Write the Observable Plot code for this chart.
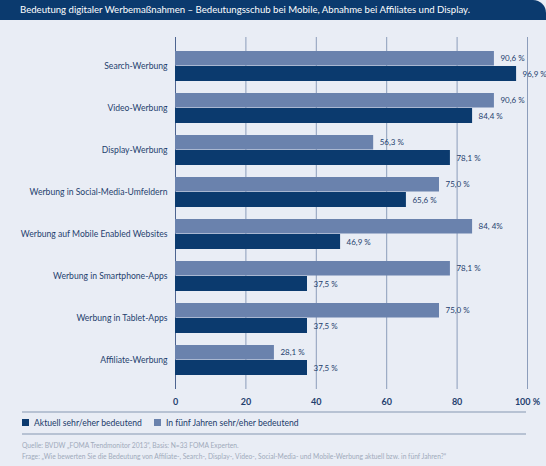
<!DOCTYPE html>
<html>
<head>
<meta charset="utf-8">
<script src="https://cdn.jsdelivr.net/npm/d3@7"></script>
<script src="https://cdn.jsdelivr.net/npm/@observablehq/plot@0.6"></script>
<style>
  html, body { margin: 0; padding: 0; background: #e9edf5; }
  #wrap { position: relative; width: 546px; height: 466px; background: #e9edf5; overflow: hidden; font-family: Lato, "DejaVu Sans", sans-serif; }
  #header { position: absolute; left: 0; top: 0; width: 546px; height: 20px; background: #0b3a6e; border-top-right-radius: 13px; }
  #title { position: absolute; left: 20px; top: 4px; color: #ffffff; font-size: 9.6px; white-space: nowrap; }
  #chart { position: absolute; left: 0; top: 20px; }
  .sep { position: absolute; left: 22px; width: 504px; height: 2px; background: #b7c2d3; }
  #legend { position: absolute; left: 22px; top: 418px; font-size: 8.6px; color: #1a3a6a; white-space: nowrap; }
  .sw { display: inline-block; width: 7px; height: 7px; margin-right: 5px; vertical-align: 0px; }
  .src { position: absolute; left: 22px; font-size: 6.7px; color: #a0aabb; white-space: nowrap; }
</style>
</head>
<body>
<div id="wrap">
  <div id="header"></div>
  <div id="title"></div>
  <div id="chart"></div>
  <div class="sep" style="top:411px"></div>
  <div id="legend"></div>
  <div class="sep" style="top:433px"></div>
  <div class="src" id="src1" style="top:441px"></div>
  <div class="src" id="src2" style="top:452px"></div>
</div>
<script>
const title = "Bedeutung digitaler Werbemaßnahmen – Bedeutungsschub bei Mobile, Abnahme bei Affiliates und Display.";
const categories = [
  "Search-Werbung",
  "Video-Werbung",
  "Display-Werbung",
  "Werbung in Social-Media-Umfeldern",
  "Werbung auf Mobile Enabled Websites",
  "Werbung in Smartphone-Apps",
  "Werbung in Tablet-Apps",
  "Affiliate-Werbung"
];
const aktuell = [96.9, 84.4, 78.1, 65.6, 46.9, 37.5, 37.5, 37.5];
const fuenfJahre = [90.6, 90.6, 56.3, 75.0, 84.4, 78.1, 75.0, 28.1];
const aktuellLabels = ["96,9 %", "84,4 %", "78,1 %", "65,6 %", "46,9 %", "37,5 %", "37,5 %", "37,5 %"];
const fuenfJahreLabels = ["90,6 %", "90,6 %", "56,3 %", "75,0 %", "84, 4%", "78,1 %", "75,0 %", "28,1 %"];
const xTicks = [0, 20, 40, 60, 80, 100];
const seriesNames = ["Aktuell sehr/eher bedeutend", "In fünf Jahren sehr/eher bedeutend"];
const source1 = "Quelle: BVDW „FOMA Trendmonitor 2013“, Basis: N=33 FOMA Experten.";
const source2 = "Frage: „Wie bewerten Sie die Bedeutung von Affiliate-, Search-, Display-, Video-, Social-Media- und Mobile-Werbung aktuell bzw. in fünf Jahren?“";

const darkBlue = "#0b3a6e";
const lightBlue = "#6a82ad";
const textColor = "#1f3f6e";

const rows = categories.map((c, i) => ({
  cat: c, ak: aktuell[i], fj: fuenfJahre[i], akL: aktuellLabels[i], fjL: fuenfJahreLabels[i]
}));

document.getElementById("title").textContent = title;
document.getElementById("src1").textContent = source1;
document.getElementById("src2").textContent = source2;
const legend = document.getElementById("legend");
legend.innerHTML =
  `<span class="sw" style="background:${darkBlue}"></span><span style="margin-right:12px">${seriesNames[0]}</span>` +
  `<span class="sw" style="background:${lightBlue}"></span><span>${seriesNames[1]}</span>`;

const chart = Plot.plot({
  width: 546,
  height: 395,
  marginTop: 17,
  marginBottom: 26,
  marginLeft: 175,
  marginRight: 19,
  style: { background: "transparent", fontFamily: "Lato, 'DejaVu Sans', sans-serif", fontSize: "8.6px", color: textColor },
  x: { domain: [0, 100], ticks: xTicks, tickSize: 0, tickPadding: 9, label: null, tickFormat: d => d === 100 ? "100 %" : String(d) },
  y: { domain: categories, paddingInner: 0.294, paddingOuter: 0.287, tickSize: 0, tickPadding: 8, label: null },
  marks: [
    Plot.ruleX(xTicks, { stroke: d => d === 0 ? "#4d6490" : "#8c9dbb", strokeWidth: 1 }),
    Plot.barX(rows, { x: "fj", y: "cat", fill: lightBlue, insetBottom: 15.5 }),
    Plot.barX(rows, { x: "ak", y: "cat", fill: darkBlue, insetTop: 15 }),
    Plot.text(rows, { x: "fj", y: "cat", text: "fjL", dx: 6, dy: -7.6, textAnchor: "start", fill: textColor, fontSize: 8 }),
    Plot.text(rows, { x: "ak", y: "cat", text: "akL", dx: 6, dy: 7.5, textAnchor: "start", fill: textColor, fontSize: 8 })
  ]
});
chart.querySelectorAll('[aria-label="x-axis tick label"] text, [aria-label="x-axis tick label"]').forEach(e => { e.setAttribute("font-weight", "bold"); e.setAttribute("font-size", "9"); });
document.getElementById("chart").appendChild(chart);
</script>
</body>
</html>
